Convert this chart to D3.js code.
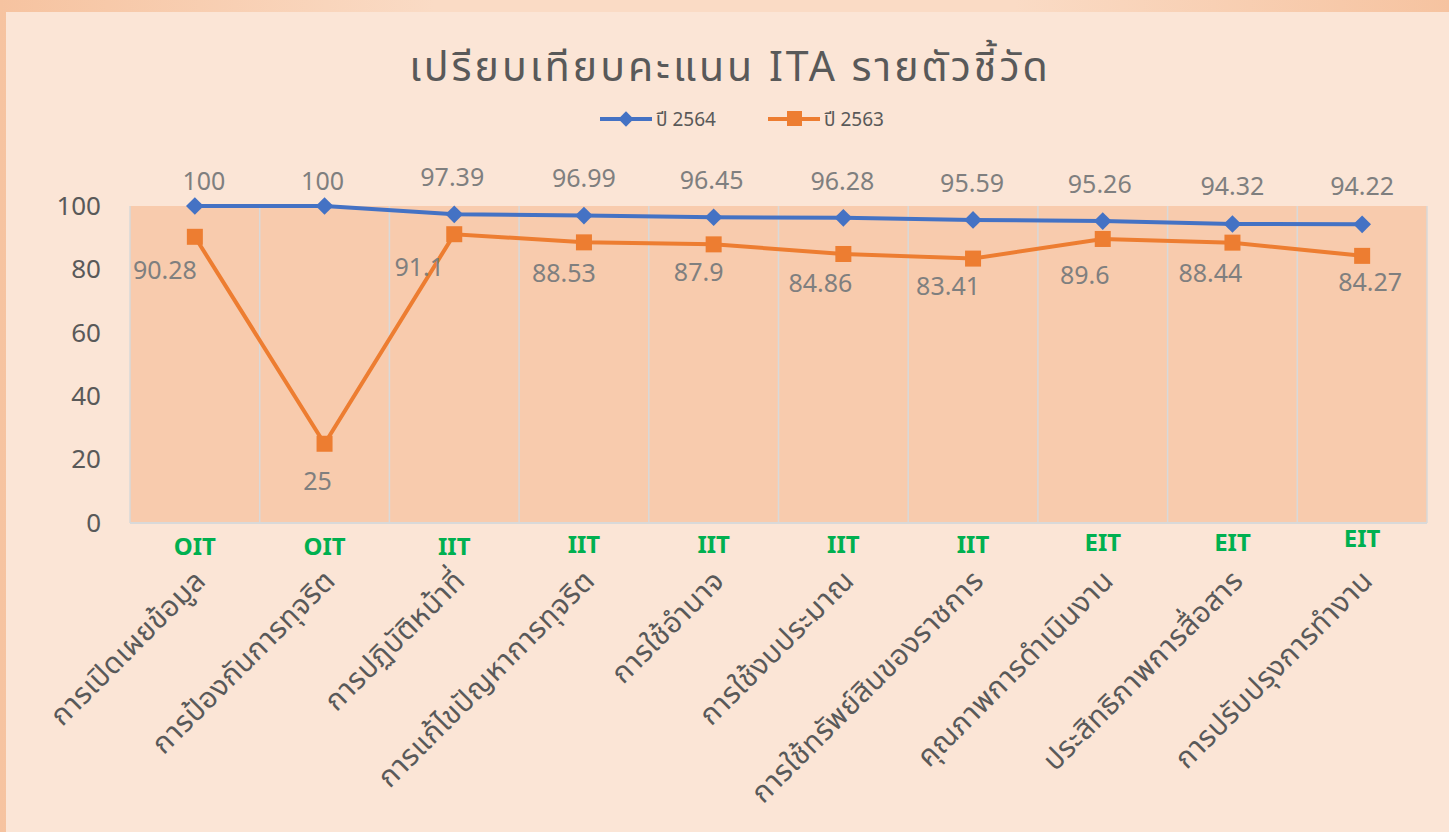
<!DOCTYPE html>
<html>
<head>
<meta charset="utf-8">
<script src="https://cdn.jsdelivr.net/npm/d3@7"></script>
<style>
  body { margin: 0; background: #FBE5D6; }
  text { font-family: "Noto Sans", "Noto Sans Thai", "DejaVu Sans", sans-serif; }
</style>
</head>
<body>
<div id="chart"></div>
<script>
// data
var categories = ["การเปิดเผยข้อมูล", "การป้องกันการทุจริต", "การปฏิบัติหน้าที่", "การแก้ไขปัญหาการทุจริต",
    "การใช้อำนาจ", "การใช้งบประมาณ", "การใช้ทรัพย์สินของราชการ", "คุณภาพการดำเนินงาน",
    "ประสิทธิภาพการสื่อสาร", "การปรับปรุงการทำงาน"];
var groups = ["OIT", "OIT", "IIT", "IIT", "IIT", "IIT", "IIT", "EIT", "EIT", "EIT"];
var y2564 = [100, 100, 97.39, 96.99, 96.45, 96.28, 95.59, 95.26, 94.32, 94.22];
var y2563 = [90.28, 25, 91.1, 88.53, 87.9, 84.86, 83.41, 89.6, 88.44, 84.27];
var yTicks = [0, 20, 40, 60, 80, 100];
var seriesNames = ["ปี 2564", "ปี 2563"];

// label nudges (dx, dy from the marker)
var blueDx = [9, -2, -2, 0, -2, -1, -1, -3, 0, 0];
var blueDy = [-16, -16, -28, -29, -28, -28, -28, -28, -29, -29];
var orangeDx = [-30, -7, -35, -20, -15, -23, -25, -18, -22, 8];
var orangeDy = [42, 46, 42, 40, 37, 38, 36, 45, 39, 35];
var groupDy = [32, 32, 32, 30, 30, 30, 30, 28, 28, 24];

var W = 1449, H = 832;
var margin = { top: 206, right: 22, bottom: 309, left: 130 },
    width = W - margin.left - margin.right,
    height = H - margin.top - margin.bottom;

var svg = d3.select("#chart")
    .append("svg")
    .attr("width", W)
    .attr("height", H);

// frame
var grad = svg.append("defs").append("linearGradient").attr("id", "frame")
    .attr("x1", "0%").attr("x2", "100%");
grad.append("stop").attr("offset", "0%").attr("stop-color", "#F6C3A0");
grad.append("stop").attr("offset", "30%").attr("stop-color", "#FADBC5");
grad.append("stop").attr("offset", "70%").attr("stop-color", "#FADBC5");
grad.append("stop").attr("offset", "100%").attr("stop-color", "#F6C3A0");
svg.append("rect").attr("width", W).attr("height", H).attr("fill", "url(#frame)");
svg.append("rect").attr("x", 6).attr("y", 12).attr("width", W - 6).attr("height", H - 12)
    .attr("fill", "#FBE5D6");

var g = svg.append("g")
    .attr("transform", "translate(" + margin.left + "," + margin.top + ")");

var x = d3.scaleBand().domain(categories).range([0, width]);
var y = d3.scaleLinear().domain([0, 100]).range([height, 0]);

// plot area
g.append("rect").attr("width", width).attr("height", height).attr("fill", "#F8CBAD");

// vertical gridlines at category boundaries
g.selectAll(".vgrid")
    .data(categories.slice(1))
    .enter().append("line")
    .attr("x1", function (d) { return x(d) })
    .attr("x2", function (d) { return x(d) })
    .attr("y1", 0).attr("y2", height)
    .attr("stroke", "#D9D9D9").attr("stroke-width", 1.5);
g.append("line").attr("x1", 0).attr("x2", 0).attr("y1", 0).attr("y2", height)
    .attr("stroke", "#D9D9D9").attr("stroke-width", 1.5);
g.append("line").attr("x1", width).attr("x2", width).attr("y1", 0).attr("y2", height)
    .attr("stroke", "#D9D9D9").attr("stroke-width", 1.5);

// x axis line
g.append("line").attr("x1", 0).attr("x2", width).attr("y1", height).attr("y2", height)
    .attr("stroke", "#D9D9D9").attr("stroke-width", 2);

// y axis
var yAxis = g.append("g")
    .call(d3.axisLeft(y).tickValues(yTicks).tickSize(0).tickPadding(29));
yAxis.select(".domain").remove();
yAxis.selectAll("text")
    .attr("fill", "#595959")
    .style("font-size", "26px");

var cx = function (i) { return x(categories[i]) + x.bandwidth() / 2 };

// lines
var line = d3.line()
    .x(function (d, i) { return cx(i) })
    .y(function (d) { return y(d) });

g.append("path").datum(y2563).attr("d", line)
    .attr("fill", "none").attr("stroke", "#ED7D31").attr("stroke-width", 4);
g.append("path").datum(y2564).attr("d", line)
    .attr("fill", "none").attr("stroke", "#4472C4").attr("stroke-width", 4);

// markers
g.selectAll(".sq").data(y2563).enter().append("rect")
    .attr("x", function (d, i) { return cx(i) - 8 })
    .attr("y", function (d) { return y(d) - 8 })
    .attr("width", 16).attr("height", 16)
    .attr("fill", "#ED7D31");

var diamond = d3.symbol().type(d3.symbolDiamond2).size(200);
g.selectAll(".dm").data(y2564).enter().append("path")
    .attr("d", diamond)
    .attr("transform", function (d, i) { return "translate(" + cx(i) + "," + y(d) + ")" })
    .attr("fill", "#4472C4");

// data labels
g.selectAll(".lb").data(y2564).enter().append("text")
    .attr("x", function (d, i) { return cx(i) + blueDx[i] })
    .attr("y", function (d, i) { return y(d) + blueDy[i] })
    .attr("text-anchor", "middle")
    .attr("fill", "#7F7F7F")
    .style("font-size", "25px")
    .text(function (d) { return d });

g.selectAll(".lo").data(y2563).enter().append("text")
    .attr("x", function (d, i) { return cx(i) + orangeDx[i] })
    .attr("y", function (d, i) { return y(d) + orangeDy[i] })
    .attr("text-anchor", "middle")
    .attr("fill", "#7F7F7F")
    .style("font-size", "25px")
    .text(function (d) { return d });

// group labels
g.selectAll(".grp").data(groups).enter().append("text")
    .attr("x", function (d, i) { return cx(i) })
    .attr("y", function (d, i) { return height + groupDy[i] })
    .attr("text-anchor", "middle")
    .attr("fill", "#00B050")
    .style("font-size", "24px")
    .style("font-weight", "bold")
    .text(function (d) { return d });

// category labels
g.selectAll(".cat").data(categories).enter().append("text")
    .attr("transform", function (d, i) { return "translate(" + (cx(i) - 2) + "," + (height + 45) + ") rotate(-45)" })
    .attr("text-anchor", "end")
    .attr("dy", "0.7em")
    .attr("fill", "#595959")
    .style("font-size", "29px")
    .style("letter-spacing", "0.5px")
    .text(function (d) { return d });

// title
svg.append("text")
    .attr("x", 730).attr("y", 81)
    .attr("text-anchor", "middle")
    .attr("fill", "#595959")
    .style("font-size", "41px")
    .style("letter-spacing", "3px")
    .text("เปรียบเทียบคะแนน ITA รายตัวชี้วัด");

// legend
var legend = svg.append("g").attr("transform", "translate(600,119)");
var lx = [0, 168];
var colors = ["#4472C4", "#ED7D31"];
seriesNames.forEach(function (name, i) {
    var lg = legend.append("g").attr("transform", "translate(" + lx[i] + ",0)");
    lg.append("line").attr("x1", 0).attr("x2", 52).attr("stroke", colors[i]).attr("stroke-width", 4);
    if (i == 0) {
        lg.append("path").attr("d", d3.symbol().type(d3.symbolDiamond2).size(150))
            .attr("transform", "translate(26,0)").attr("fill", colors[i]);
    } else {
        lg.append("rect").attr("x", 19).attr("y", -8).attr("width", 15).attr("height", 15).attr("fill", colors[i]);
    }
    lg.append("text").attr("x", 56).attr("y", 7).attr("fill", "#595959")
        .style("font-size", "19px").text(name);
});
</script>
</body>
</html>
